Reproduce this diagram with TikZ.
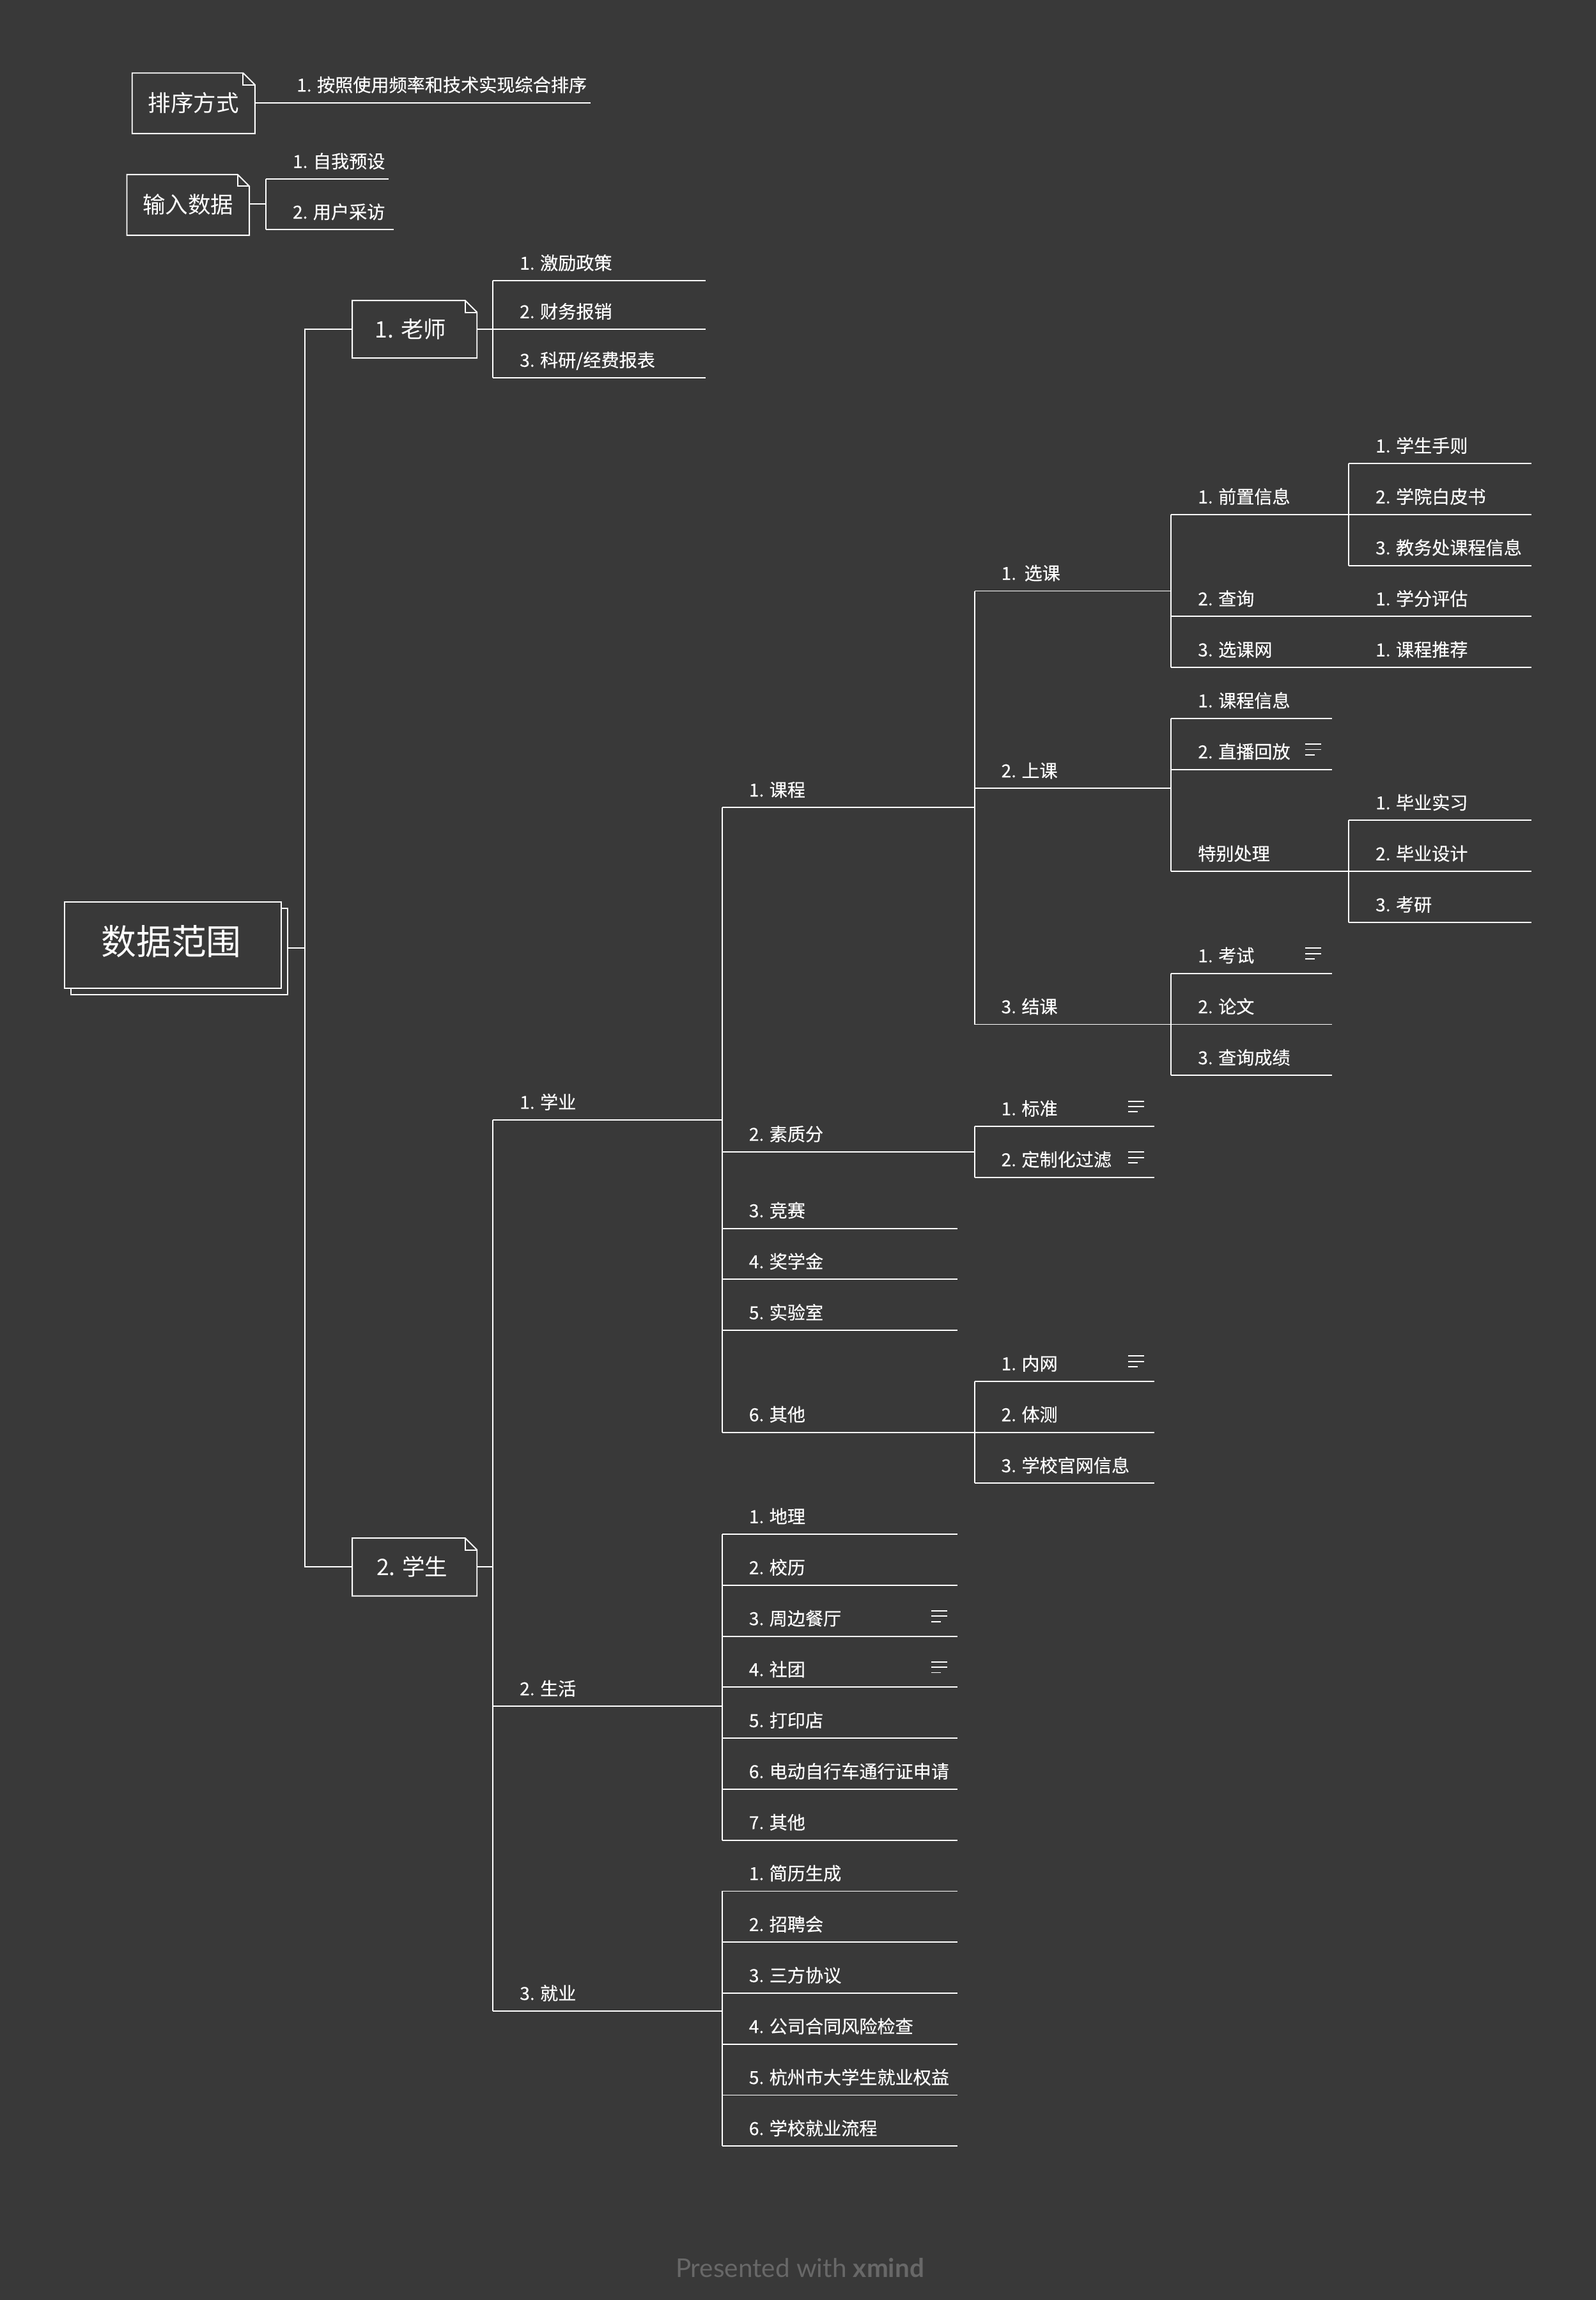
\documentclass[tikz,border=0pt]{standalone}
\usepackage{fontspec}
\setmainfont{Noto Sans CJK SC}
\newfontfamily\lblfont{Noto Sans CJK SC}[FakeBold=0.3]
\newfontfamily\footfont{Lato}
\usetikzlibrary{calc}
\definecolor{bg}{RGB}{57,57,57}
\definecolor{footgray}{RGB}{104,104,104}
% name, x1, x2, y (underline), text
\newcommand{\topic}[5]{%
  \coordinate (#1-a) at (#2,#4);
  \coordinate (#1-b) at (#3,#4);
  \draw[ln] (#1-a) -- (#1-b);
  \node[lbl] (#1) at ({#2+18},{#4-13.3}) {#5};
}
% name, x, y (underline of the topic)
\newcommand{\noteicon}[3]{%
  \coordinate (#1) at (#2,{#3-13.6});
  \draw[ln] ($(#1)+(0,-3.6)$) -- ++(10.9,0) (#1) -- ++(10.9,0) ($(#1)+(0,3.6)$) -- ++(6.5,0);
}
% name, x1, y1, x2, y2 : note box with folded corner
\newcommand{\notebox}[5]{%
  \coordinate (#1-nw) at (#2,#3);
  \coordinate (#1-se) at (#4,#5);
  \draw[ln] (#2,#3) -- ({#4-8},#3) -- (#4,{#3+8}) -- (#4,#5) -- (#2,#5) -- cycle;
  \draw[ln] ({#4-8},#3) -- ({#4-8},{#3+8}) -- (#4,{#3+8});
}
\begin{document}
\begin{tikzpicture}[x=0.022941cm,y=-0.022941cm,
  ln/.style={draw=white,line width=0.55pt},
  lbl/.style={text=white,font=\lblfont\fontsize{8}{9}\selectfont,anchor=west,inner sep=0pt,text height=0.8em,text depth=0.05em},
  boxlbl/.style={text=white,font=\fontsize{10.1}{12}\selectfont,inner sep=0pt,text height=0.8em,text depth=0.05em},
  rootlbl/.style={text=white,font=\fontsize{15.6}{18}\selectfont,inner sep=0pt,text height=0.8em,text depth=0.05em}]
\fill[bg] (0,0) rectangle (1088,1568);
\useasboundingbox (0,0) rectangle (1088,1568);

% ---------- top: sorting ----------
\notebox{sortbox}{90.1}{49.8}{173.8}{91}
\node[boxlbl] (sort) at (132,70.4) {排序方式};
\coordinate (sort-e) at (173.8,70);
\topic{p1}{184}{402.8}{70}{1. 按照使用频率和技术实现综合排序}
\draw[ln] (sort-e) -- (p1-a);

% ---------- top: input ----------
\notebox{inbox}{86.5}{119}{170}{160.4}
\node[boxlbl] (input) at (128.3,139.7) {输入数据};
\coordinate (input-e) at (170,139.2);
\topic{i1}{181.3}{265}{122.1}{1. 自我预设}
\topic{i2}{181.3}{268.6}{156.6}{2. 用户采访}
\draw[ln] (i1-a) -- (i2-a);
\draw[ln] (input-e) -- (input-e -| i1-a);

% ---------- root ----------
\draw[ln] (48.3,619.3) rectangle (196.2,678.2);
\filldraw[ln,fill=bg] (43.9,614.9) rectangle (191.8,673.8);
\node[rootlbl] (root) at (116.8,645) {数据范围};
\coordinate (root-e) at (196.2,646.4);
\coordinate (rootspine) at (207.7,646.4);

% ---------- teacher ----------
\notebox{tbox}{240.2}{204.9}{325.2}{244.1}
\node[boxlbl] (teacher) at (280,224.5) {1. 老师};
\coordinate (teacher-w) at (240.2,224.5);
\coordinate (teacher-e) at (325.2,224.5);
\topic{t1}{336.1}{480.9}{191.4}{1. 激励政策}
\topic{t2}{336.1}{480.9}{224.5}{2. 财务报销}
\topic{t3}{336.1}{480.9}{257.6}{3. 科研/经费报表}
\draw[ln] (t1-a) -- (t3-a);
\draw[ln] (teacher-e) -- (t2-a);

% ---------- student ----------
\notebox{sbox}{240.2}{1048.6}{325.2}{1088}
\node[boxlbl] (student) at (281,1068.3) {2. 学生};
\coordinate (student-w) at (240.2,1068.3);
\coordinate (student-e) at (325.2,1068.3);

\draw[ln] (root-e) -- (rootspine);
\draw[ln] (teacher-w) -- (teacher-w -| rootspine) -- (student-w -| rootspine) -- (student-w);

\topic{xy}{336.1}{492.4}{763.5}{1. 学业}
\topic{sh}{336.1}{492.4}{1163.3}{2. 生活}
\topic{jy}{336.1}{492.4}{1371}{3. 就业}
\draw[ln] (xy-a) -- (jy-a);
\draw[ln] (student-e) -- (student-e -| xy-a);

% ---------- study ----------
\topic{kc}{492.4}{664.4}{550.6}{1. 课程}
\topic{szf}{492.4}{664.4}{785.3}{2. 素质分}
\topic{js}{492.4}{653}{837.4}{3. 竞赛}
\topic{jxj}{492.4}{653}{872.16}{4. 奖学金}
\topic{sys}{492.4}{653}{906.92}{5. 实验室}
\topic{qt}{492.4}{664.4}{976.44}{6. 其他}
\draw[ln] (kc-a) -- (qt-a);

% courses
\topic{xk}{664.4}{798.5}{402.9}{1.\ \ 选课}
\topic{sk}{664.4}{798.5}{537.5}{2. 上课}
\topic{jk}{664.4}{798.5}{698.36}{3. 结课}
\draw[ln] (xk-a) -- (jk-a);

% course selection
\topic{qz}{798.5}{919.6}{350.76}{1. 前置信息}
\topic{cx}{798.5}{919.6}{420.28}{2. 查询}
\topic{xkw}{798.5}{919.6}{455.04}{3. 选课网}
\draw[ln] (qz-a) -- (xkw-a);

\topic{q1}{919.6}{1044.2}{316}{1. 学生手则}
\topic{q2}{919.6}{1044.2}{350.76}{2. 学院白皮书}
\topic{q3}{919.6}{1044.2}{385.52}{3. 教务处课程信息}
\draw[ln] (q1-a) -- (q3-a);
\topic{cx1}{919.6}{1044.2}{420.28}{1. 学分评估}
\topic{xkw1}{919.6}{1044.2}{455.04}{1. 课程推荐}

% class
\topic{c1}{798.5}{908}{489.8}{1. 课程信息}
\topic{c2}{798.5}{908}{524.56}{2. 直播回放}
\noteicon{c2n}{890.1}{524.56}
\topic{tb}{798.5}{919.6}{594.08}{特别处理}
\draw[ln] (c1-a) -- (tb-a);
\topic{tb1}{919.6}{1044.2}{559.32}{1. 毕业实习}
\topic{tb2}{919.6}{1044.2}{594.08}{2. 毕业设计}
\topic{tb3}{919.6}{1044.2}{628.84}{3. 考研}
\draw[ln] (tb1-a) -- (tb3-a);

% course end
\topic{j1}{798.5}{908}{663.6}{1. 考试}
\noteicon{j1n}{890.1}{663.6}
\topic{j2}{798.5}{908}{698.36}{2. 论文}
\topic{j3}{798.5}{908}{733.12}{3. 查询成绩}
\draw[ln] (j1-a) -- (j3-a);

% quality score
\topic{z1}{664.4}{787}{767.88}{1. 标准}
\noteicon{z1n}{769.1}{767.88}
\topic{z2}{664.4}{787}{802.64}{2. 定制化过滤}
\noteicon{z2n}{769.1}{802.64}
\draw[ln] (z1-a) -- (z2-a);

% others
\topic{o1}{664.4}{787}{941.68}{1. 内网}
\noteicon{o1n}{769.1}{941.68}
\topic{o2}{664.4}{787}{976.44}{2. 体测}
\topic{o3}{664.4}{787}{1011.2}{3. 学校官网信息}
\draw[ln] (o1-a) -- (o3-a);

% ---------- life ----------
\topic{l1}{492.4}{653}{1045.96}{1. 地理}
\topic{l2}{492.4}{653}{1080.72}{2. 校历}
\topic{l3}{492.4}{653}{1115.48}{3. 周边餐厅}
\noteicon{l3n}{635.1}{1115.48}
\topic{l4}{492.4}{653}{1150.24}{4. 社团}
\noteicon{l4n}{635.1}{1150.24}
\topic{l5}{492.4}{653}{1185}{5. 打印店}
\topic{l6}{492.4}{653}{1219.76}{6. 电动自行车通行证申请}
\topic{l7}{492.4}{653}{1254.52}{7. 其他}
\draw[ln] (l1-a) -- (l7-a);

% ---------- employment ----------
\topic{e1}{492.4}{653}{1289.28}{1. 简历生成}
\topic{e2}{492.4}{653}{1324.04}{2. 招聘会}
\topic{e3}{492.4}{653}{1358.8}{3. 三方协议}
\topic{e4}{492.4}{653}{1393.56}{4. 公司合同风险检查}
\topic{e5}{492.4}{653}{1428.32}{5. 杭州市大学生就业权益}
\topic{e6}{492.4}{653}{1463.08}{6. 学校就业流程}
\draw[ln] (e1-a) -- (e6-a);

% ---------- footer ----------
\node[anchor=base,inner sep=0pt,text=footgray,font=\footfont\fontsize{11.5}{13}\selectfont] (footer) at (545.4,1552.6) {Presented with \textbf{xmind}};
\end{tikzpicture}
\end{document}
